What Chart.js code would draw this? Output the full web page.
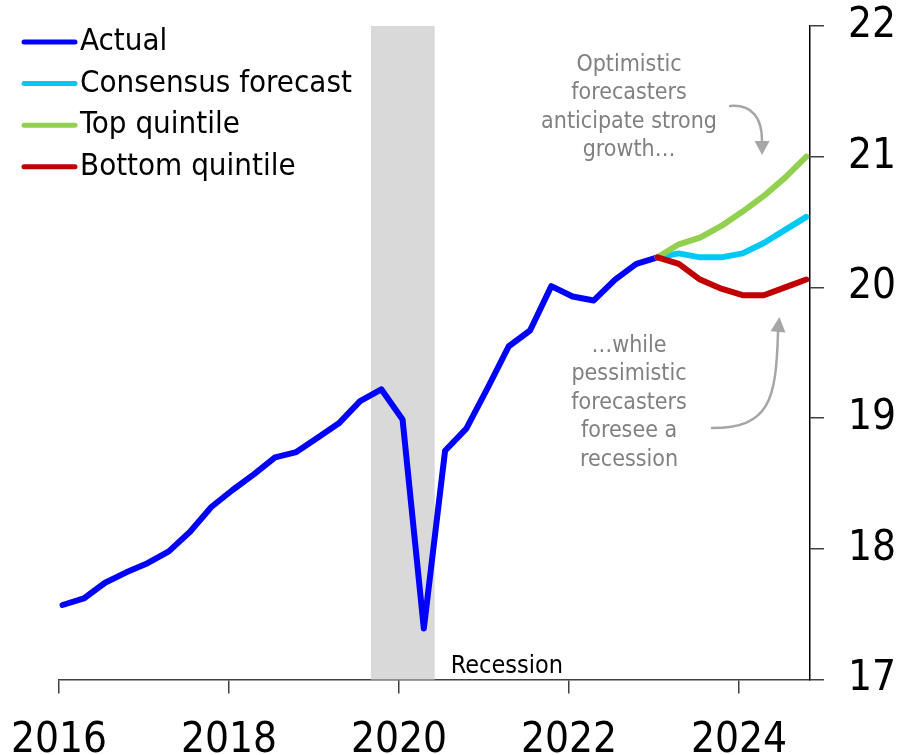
<!DOCTYPE html>
<html>
<head>
<meta charset="utf-8">
<script src="https://cdn.jsdelivr.net/npm/chart.js@4/dist/chart.umd.min.js"></script>
<style>
  html, body { margin: 0; padding: 0; background: #ffffff; }
  #wrap { width: 900px; height: 755px; }
</style>
</head>
<body>
<div id="wrap"><canvas id="chart" width="900" height="755"></canvas></div>
<script>
// Quarterly observations, 2016Q1 - 2023Q1
const actualQuarters = [
  '2016Q1','2016Q2','2016Q3','2016Q4',
  '2017Q1','2017Q2','2017Q3','2017Q4',
  '2018Q1','2018Q2','2018Q3','2018Q4',
  '2019Q1','2019Q2','2019Q3','2019Q4',
  '2020Q1','2020Q2','2020Q3','2020Q4',
  '2021Q1','2021Q2','2021Q3','2021Q4',
  '2022Q1','2022Q2','2022Q3','2022Q4',
  '2023Q1'
];
const actualValues = [
  17.57, 17.62, 17.74, 17.82,
  17.89, 17.98, 18.13, 18.32,
  18.45, 18.57, 18.70, 18.74,
  18.85, 18.96, 19.13, 19.22,
  18.99, 17.39, 18.75, 18.92,
  19.23, 19.55, 19.67, 20.01,
  19.93, 19.90, 20.06, 20.18,
  20.23
];

// Forecast paths, 2023Q1 - 2024Q4
const forecastQuarters = ['2023Q1','2023Q2','2023Q3','2023Q4','2024Q1','2024Q2','2024Q3','2024Q4'];
const consensusValues = [20.23, 20.26, 20.23, 20.23, 20.26, 20.34, 20.44, 20.54];
const topQuintileValues = [20.23, 20.33, 20.38, 20.47, 20.58, 20.70, 20.84, 21.00];
const bottomQuintileValues = [20.23, 20.18, 20.06, 19.99, 19.94, 19.94, 20.00, 20.06];

// Axis ticks
const xTickYears = [2016, 2018, 2020, 2022, 2024];
const yTickValues = [17, 18, 19, 20, 21, 22];

// Recession shading (decimal years)
const recessionSpan = [2019.67, 2020.42];

const FONT = "'DejaVu Sans Condensed', 'DejaVu Sans', sans-serif";

// Each quarter is placed at the middle of its first month
function quarterToYear(q) {
  const year = parseInt(q.slice(0, 4), 10);
  const n = parseInt(q.slice(5), 10);
  return year + (n - 1) / 4 + 0.5 / 12;
}
function toPoints(quarters, values) {
  return quarters.map((q, i) => ({ x: quarterToYear(q), y: values[i] }));
}

function lineDataset(label, quarters, values, color, order) {
  return {
    label,
    data: toPoints(quarters, values),
    borderColor: color,
    backgroundColor: color,
    borderWidth: 6,
    borderCapStyle: 'round',
    borderJoinStyle: 'round',
    pointRadius: 0,
    pointHoverRadius: 0,
    tension: 0,
    fill: false,
    order
  };
}

// Fixed axis box sizes, without extra room for overhanging labels
function fixBox(size, horizontal) {
  return scale => {
    if (horizontal) scale.height = size; else scale.width = size;
    scale.paddingLeft = 0;
    scale.paddingRight = 0;
    scale.paddingTop = 0;
    scale.paddingBottom = 0;
  };
}

// Grey recession band behind the lines, with its caption
const recessionPlugin = {
  id: 'recession',
  beforeDatasetsDraw(chart) {
    const { ctx, chartArea, scales } = chart;
    const x0 = scales.x.getPixelForValue(recessionSpan[0]);
    const x1 = scales.x.getPixelForValue(recessionSpan[1]);
    ctx.save();
    ctx.fillStyle = '#d9d9d9';
    ctx.fillRect(x0, chartArea.top, x1 - x0, chartArea.bottom - chartArea.top);
    ctx.fillStyle = '#000000';
    ctx.font = '25px ' + FONT;
    ctx.textAlign = 'left';
    ctx.textBaseline = 'alphabetic';
    ctx.fillText('Recession', x1 + 16, chartArea.bottom - 7);
    ctx.restore();
  }
};

// Legend in the top-left corner
const legendPlugin = {
  id: 'cornerLegend',
  afterDraw(chart) {
    const { ctx } = chart;
    const items = chart.data.datasets;
    ctx.save();
    ctx.font = '31px ' + FONT;
    ctx.textBaseline = 'middle';
    ctx.textAlign = 'left';
    items.forEach((ds, i) => {
      const y = 42 + i * 41.6;
      ctx.strokeStyle = ds.borderColor;
      ctx.lineWidth = 5;
      ctx.lineCap = 'round';
      ctx.beginPath();
      ctx.moveTo(24, y);
      ctx.lineTo(75, y);
      ctx.stroke();
      ctx.fillStyle = '#000000';
      ctx.fillText(ds.label, 80, y);
    });
    ctx.restore();
  }
};

// Callout texts with curved arrows
const calloutPlugin = {
  id: 'callouts',
  afterDatasetsDraw(chart) {
    const { ctx, scales } = chart;
    const P = (yr, v) => [scales.x.getPixelForValue(yr), scales.y.getPixelForValue(v)];
    ctx.save();
    ctx.fillStyle = '#808080';
    ctx.font = '23px ' + FONT;
    ctx.textAlign = 'center';
    ctx.textBaseline = 'alphabetic';

    const topLines = ['Optimistic', 'forecasters', 'anticipate strong', 'growth\u2026'];
    let [tx, ty] = P(2022.706, 21.656);
    topLines.forEach((t, i) => ctx.fillText(t, tx, ty + i * 28.5));

    const bottomLines = ['\u2026while', 'pessimistic', 'forecasters', 'foresee a', 'recession'];
    [tx, ty] = P(2022.706, 19.508);
    bottomLines.forEach((t, i) => ctx.fillText(t, tx, ty + i * 28.5));

    ctx.strokeStyle = '#a6a6a6';
    ctx.fillStyle = '#a6a6a6';
    ctx.lineWidth = 2.5;
    ctx.lineCap = 'round';

    function arrow(start, c1, c2, end, tip) {
      ctx.beginPath();
      ctx.moveTo(...start);
      ctx.bezierCurveTo(...c1, ...c2, ...end);
      ctx.stroke();
      const dx = tip[0] - end[0], dy = tip[1] - end[1];
      const len = Math.hypot(dx, dy);
      const nx = -dy / len, ny = dx / len;
      const hw = 7.5;
      ctx.beginPath();
      ctx.moveTo(tip[0], tip[1]);
      ctx.lineTo(end[0] + nx * hw, end[1] + ny * hw);
      ctx.lineTo(end[0] - nx * hw, end[1] - ny * hw);
      ctx.closePath();
      ctx.fill();
    }

    arrow(P(2023.894, 21.388), P(2024.153, 21.403), P(2024.271, 21.296),
          P(2024.271, 21.120), P(2024.271, 21.013));
    arrow(P(2023.682, 18.924), P(2024.365, 18.924), P(2024.435, 19.139),
          P(2024.459, 19.659), P(2024.474, 19.774));
    ctx.restore();
  }
};

new Chart(document.getElementById('chart'), {
  type: 'line',
  data: {
    datasets: [
      lineDataset('Actual', actualQuarters, actualValues, '#0000ff', 4),
      lineDataset('Consensus forecast', forecastQuarters, consensusValues, '#00c8f5', 3),
      lineDataset('Top quintile', forecastQuarters, topQuintileValues, '#92d050', 2),
      lineDataset('Bottom quintile', forecastQuarters, bottomQuintileValues, '#c00000', 1)
    ]
  },
  options: {
    responsive: false,
    devicePixelRatio: 1,
    animation: false,
    layout: { autoPadding: false, padding: { left: 59, top: 26, right: 0, bottom: 0 } },
    plugins: {
      legend: { display: false },
      tooltip: { enabled: false }
    },
    scales: {
      x: {
        type: 'linear',
        position: 'bottom',
        min: 2016,
        max: 2024.835,
        afterBuildTicks(scale) { scale.ticks = xTickYears.map(v => ({ value: v })); },
        afterFit: fixBox(75.5, true),
        ticks: {
          callback: v => String(v),
          color: '#000000',
          font: { family: FONT, size: 42 },
          padding: 22,
          maxRotation: 0
        },
        grid: {
          drawOnChartArea: false,
          drawTicks: true,
          tickLength: 14,
          color: '#404040',
          lineWidth: 1.5
        },
        border: { display: true, color: '#404040', width: 1.5 }
      },
      y: {
        type: 'linear',
        position: 'right',
        min: 17,
        max: 22,
        afterBuildTicks(scale) { scale.ticks = yTickValues.map(v => ({ value: v })); },
        afterFit: fixBox(90, false),
        ticks: {
          callback: v => String(v),
          color: '#000000',
          font: { family: FONT, size: 42 },
          padding: 24
        },
        grid: {
          drawOnChartArea: false,
          drawTicks: true,
          tickLength: 14,
          color: '#404040',
          lineWidth: 1.5
        },
        border: { display: true, color: '#000000', width: 1.5 }
      }
    }
  },
  plugins: [recessionPlugin, calloutPlugin, legendPlugin]
});
</script>
</body>
</html>
